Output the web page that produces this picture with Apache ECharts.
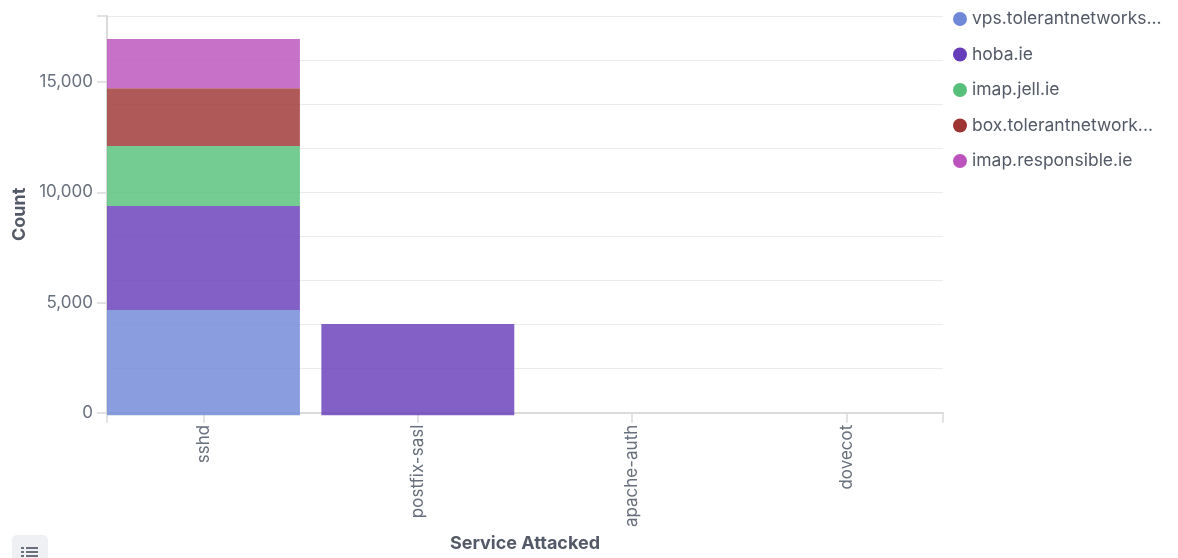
<!DOCTYPE html>
<html>
<head>
<meta charset="utf-8">
<title>Service Attacked</title>
<script src="https://cdn.jsdelivr.net/npm/echarts@6/dist/echarts.min.js"></script>
<style>
  html, body { margin: 0; padding: 0; background: #ffffff; }
  #chart { width: 1178px; height: 558px; }
</style>
</head>
<body>
<div id="chart"></div>
<script>
// Services on the x axis
const categories = ['sshd', 'postfix-sasl', 'apache-auth', 'dovecot'];

// Attack counts per host, one value per service
const vpsTolerant = [4750, null, null, null];
const hobaIe = [4690, 4120, null, null];
const imapJell = [2700, null, null, null];
const boxTolerant = [2600, null, null, null];
const imapResponsible = [2220, null, null, null];

// Host names shown in the legend
const hostNames = [
  'vps.tolerantnetworks...',
  'hoba.ie',
  'imap.jell.ie',
  'box.tolerantnetwork...',
  'imap.responsible.ie'
];
const hostValues = [vpsTolerant, hobaIe, imapJell, boxTolerant, imapResponsible];
const hostColors = ['#6f87d8', '#663db8', '#57c17b', '#9e3533', '#bc52bc'];

// Count axis ticks
const yMax = 18000;
const yGridStep = 2000;
const yLabelTicks = [0, 5000, 10000, 15000];

const FONT = 'Inter, "Noto Sans", sans-serif';
const LABEL_COLOR = '#69707d';
const TITLE_COLOR = '#535966';
const AXIS_COLOR = '#dadada';
const GRID_COLOR = '#ebebeb';

// Plot area edges
const plotLeft = 107, plotRight = 943, plotTop = 16, plotBottom = 415.3;
// Half a band of padding on either side of the outer services
const pad = 0.45;
const step = (plotRight - plotLeft) / (categories.length - 1 + 2 * pad);

function withAlpha(hex, a) {
  const n = parseInt(hex.slice(1), 16);
  return 'rgba(' + (n >> 16) + ',' + ((n >> 8) & 255) + ',' + (n & 255) + ',' + a + ')';
}

const chart = echarts.init(document.getElementById('chart'), null, { renderer: 'canvas' });

const series = hostNames.map((name, i) => ({
  name: name,
  type: 'bar',
  stack: 'hosts',
  xAxisIndex: 0,
  yAxisIndex: 0,
  barWidth: '90%',
  data: hostValues[i],
  itemStyle: { color: withAlpha(hostColors[i], 0.82) },
  emphasis: { disabled: true }
}));

const option = {
  animation: false,
  textStyle: { fontFamily: FONT },
  color: hostColors,
  legend: {
    orient: 'vertical',
    left: 953,
    top: 10,
    padding: 0,
    icon: 'circle',
    itemWidth: 14,
    itemHeight: 14,
    itemGap: 17.5,
    textStyle: { color: TITLE_COLOR, fontSize: 17.5, lineHeight: 18, fontFamily: FONT },
    data: hostNames.map((n, i) => ({
      name: n,
      itemStyle: { color: hostColors[i], opacity: 1 }
    }))
  },
  grid: [
    // bars: bands of width "step" centred on the service ticks
    {
      left: plotLeft + pad * step - step / 2,
      right: 1178 - (plotRight - pad * step + step / 2),
      top: plotTop,
      bottom: 558 - plotBottom
    },
    // axes, gridlines and labels
    {
      left: plotLeft,
      right: 1178 - plotRight,
      top: plotTop,
      bottom: 558 - plotBottom
    }
  ],
  xAxis: [
    {
      gridIndex: 0,
      type: 'category',
      data: categories,
      show: false
    },
    {
      gridIndex: 1,
      type: 'value',
      position: 'bottom',
      min: -pad,
      max: categories.length - 1 + pad,
      name: 'Service Attacked',
      nameLocation: 'middle',
      nameGap: 120,
      nameTextStyle: { color: TITLE_COLOR, fontWeight: 'bold', fontSize: 18, fontFamily: FONT },
      axisLine: { show: true, lineStyle: { color: AXIS_COLOR, width: 2 } },
      axisTick: {
        show: true,
        length: 10,
        lineStyle: { color: AXIS_COLOR, width: 1.5 },
        customValues: [-pad].concat(categories.map((c, i) => i), [categories.length - 1 + pad])
      },
      axisLabel: {
        show: true,
        rotate: 90,
        margin: 12,
        color: LABEL_COLOR,
        fontSize: 17,
        fontFamily: FONT,
        customValues: categories.map((c, i) => i),
        formatter: v => categories[Math.round(v)] || ''
      },
      splitLine: { show: false }
    }
  ],
  yAxis: [
    {
      gridIndex: 0,
      type: 'value',
      min: 0,
      max: yMax,
      show: false
    },
    {
      gridIndex: 1,
      type: 'value',
      position: 'left',
      min: 0,
      max: yMax,
      interval: yGridStep,
      axisLine: { show: false },
      axisTick: { show: false },
      axisLabel: { show: false },
      splitLine: { show: true, lineStyle: { color: GRID_COLOR, width: 1 } }
    },
    {
      gridIndex: 1,
      type: 'value',
      position: 'left',
      offset: 0,
      min: 0,
      max: yMax,
      name: 'Count',
      nameLocation: 'middle',
      nameGap: 78,
      nameTextStyle: { color: TITLE_COLOR, fontWeight: 'bold', fontSize: 18, fontFamily: FONT },
      axisLine: { show: true, lineStyle: { color: AXIS_COLOR, width: 2 } },
      axisTick: {
        show: true,
        length: 10,
        lineStyle: { color: AXIS_COLOR, width: 1.5 },
        customValues: yLabelTicks.concat([yMax])
      },
      axisLabel: {
        show: true,
        margin: 14,
        padding: [3, 0, 0, 0],
        color: LABEL_COLOR,
        fontSize: 17,
        fontFamily: FONT,
        customValues: yLabelTicks,
        formatter: v => v.toLocaleString('en-US')
      },
      splitLine: { show: false }
    }
  ],
  series: series,
  graphic: [
    // legend toggle button in the lower left corner
    {
      type: 'group',
      left: 12,
      top: 535,
      children: [
        { type: 'rect', shape: { x: 0, y: 0, width: 36, height: 30, r: 5 }, style: { fill: '#eef0f4' } },
        { type: 'rect', shape: { x: 9, y: 12, width: 3, height: 2 }, style: { fill: '#69707d' } },
        { type: 'rect', shape: { x: 14, y: 12, width: 12, height: 2 }, style: { fill: '#69707d' } },
        { type: 'rect', shape: { x: 9, y: 16, width: 3, height: 2 }, style: { fill: '#69707d' } },
        { type: 'rect', shape: { x: 14, y: 16, width: 12, height: 2 }, style: { fill: '#69707d' } },
        { type: 'rect', shape: { x: 9, y: 20, width: 3, height: 2 }, style: { fill: '#69707d' } },
        { type: 'rect', shape: { x: 14, y: 20, width: 12, height: 2 }, style: { fill: '#69707d' } }
      ]
    }
  ]
};

chart.setOption(option);
</script>
</body>
</html>
